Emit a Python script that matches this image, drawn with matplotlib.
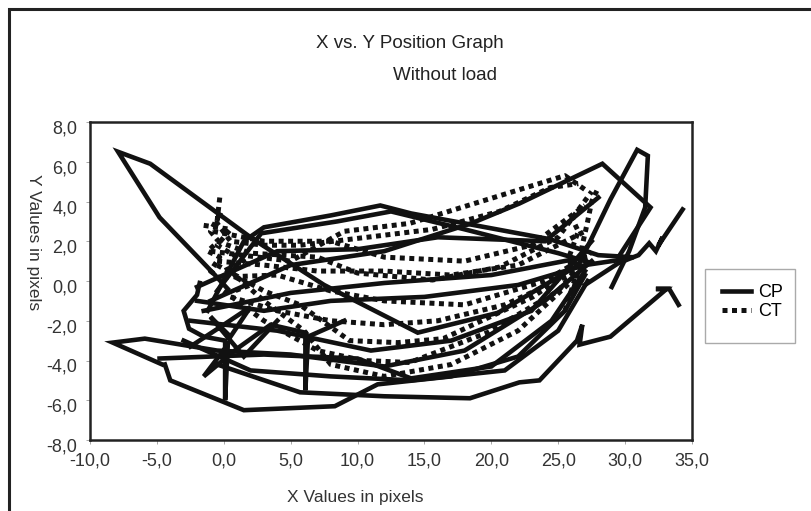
import matplotlib
matplotlib.use("Agg")
import matplotlib.pyplot as plt
from matplotlib.patches import Rectangle
from matplotlib.ticker import FuncFormatter
from matplotlib.transforms import ScaledTranslation

# axis ticks
x_ticks = [-10, -5, 0, 5, 10, 15, 20, 25, 30, 35]
y_ticks = [-8, -6, -4, -2, 0, 2, 4, 6, 8]

# CP trajectories (x, y) in pixels
cp_spike = [(0.3, -0.4), (-0.8, 0.4), (-4.8, 3.2), (-7.9, 6.5), (-5.5, 5.9),
            (2.2, 2.1), (7.5, -0.2), (14.5, -2.6), (20.5, -1.6), (26.5, 0.8)]
cp_top = [(-1.2, -1.5), (1.5, 2.0), (3.0, 2.7), (8.0, 3.3), (11.7, 3.8),
          (14.0, 3.4), (24.4, 2.1), (28.0, 1.3), (30.5, 1.2)]
cp_top2 = [(-0.5, -0.5), (2.8, 2.4), (8.5, 3.0), (12.5, 3.5), (18.0, 2.6),
           (25.0, 1.4), (27.5, 0.9)]
cp_upper = [(-1.0, -1.0), (5.0, 0.8), (12.0, 1.5), (18.5, 2.9), (22.1, 3.9),
            (28.3, 5.9), (31.9, 3.7), (29.5, 1.2)]
cp_tall = [(26.6, 0.9), (28.9, 4.1), (30.9, 6.6), (31.7, 6.3), (31.5, 3.7),
           (30.3, 1.5), (29.0, -0.3)]
cp_zigzag = [(27.0, -0.2), (29.5, 0.9), (31.0, 1.3), (31.8, 1.9), (32.3, 1.5),
             (32.8, 2.2), (32.5, 1.8), (34.3, 3.6)]
cp_arrow = [(-0.5, -4.2), (5.7, -5.6), (12.0, -5.8), (18.4, -5.9), (22.1, -5.1),
            (23.6, -5.0), (26.4, -3.0), (26.8, -2.2), (26.6, -3.2), (28.9, -2.8),
            (33.1, -0.4), (32.3, -0.4), (33.3, -0.4), (34.0, -1.2)]
cp_low = [(-4.4, -4.2), (-4.0, -5.0), (1.5, -6.5), (8.3, -6.3), (11.5, -5.2),
          (17.0, -4.8), (22.0, -3.8), (25.5, -1.5), (27.0, 0.3)]
cp_tip = [(-4.6, -4.2), (-8.3, -3.1), (-5.9, -2.9), (-0.5, -3.5), (5.0, -3.7),
          (12.0, -4.3), (18.0, -3.5), (24.0, -1.0), (27.5, 1.0)]
cp_flat = [(-4.8, -3.9), (3.0, -3.7), (10.0, -3.9), (14.0, -4.9), (20.0, -4.3),
           (24.5, -2.0), (27.0, 0.5)]
cp_mid1 = [(-2.0, -0.3), (4.0, 1.5), (10.0, 1.6), (16.0, 2.2), (24.0, 2.0),
           (28.0, 4.2)]
cp_mid2 = [(-1.5, -1.5), (5.0, -0.6), (12.0, -0.1), (20.0, 0.3), (27.0, 1.2)]
cp_mid3 = [(-2.5, -2.0), (4.0, -2.5), (11.0, -3.5), (17.0, -3.0), (23.0, -1.5),
           (27.5, 2.0)]
cp_mid4 = [(-2.0, -1.0), (3.0, -1.5), (8.0, -1.0), (15.0, -0.8), (22.0, -0.2),
           (27.0, 0.8), (30.0, 1.1)]
cp_lowmid = [(-3.0, -3.0), (2.0, -4.5), (8.0, -4.8), (14.0, -5.0), (21.0, -4.5),
             (25.0, -2.5), (27.2, 0.0)]
cp_knot = [(-1.8, -0.1), (-2.0, -0.7), (-3.0, -1.5), (-2.6, -2.4), (-1.5, -2.8),
           (0.1, -3.0), (0.1, -6.0), (0.3, -3.2), (-1.5, -4.8), (1.0, -3.4),
           (3.5, -2.2), (6.1, -2.6), (6.1, -5.5), (6.3, -2.8), (9.0, -2.0)]
cp_star = [(-2.5, -3.3), (0.0, -2.2), (2.0, -1.3), (0.5, -2.8), (-1.0, -1.8),
           (1.5, -3.8), (4.0, -2.0)]

# CT trajectories (x, y) in pixels
ct_1 = [(-0.6, 3.0), (0.5, 2.0), (3.0, 1.8), (5.7, 1.8), (10.7, 2.2),
        (15.6, 2.6), (20.6, 3.5), (24.4, 4.7), (26.5, 4.9)]
ct_2 = [(-0.5, 2.0), (2.0, 1.4), (7.0, 1.2), (10.0, 0.4), (15.6, 0.05),
        (20.6, 0.7), (25.0, 2.2), (27.5, 4.5)]
ct_3 = [(-1.0, 1.5), (5.0, 1.0), (9.0, 2.5), (13.9, 2.9), (19.7, 4.1),
        (25.5, 5.3), (27.0, 4.6)]
ct_4 = [(0.0, 0.2), (4.0, 0.3), (8.0, -0.5), (12.0, -1.0), (18.0, -1.2),
        (24.0, 0.0), (27.0, 1.2)]
ct_5 = [(-0.5, 0.8), (3.0, -0.5), (5.7, -1.2), (9.4, -3.0), (13.0, -3.1),
        (16.4, -2.9), (23.1, -0.8), (27.0, 1.0)]
ct_6 = [(0.0, -0.5), (3.0, -2.0), (7.0, -3.5), (10.4, -4.0), (13.9, -4.1),
        (19.7, -2.6), (25.0, -0.5), (27.5, 1.5)]
ct_7 = [(0.5, 0.5), (3.0, -1.0), (6.0, -2.5), (8.0, -4.2), (12.0, -4.8),
        (17.0, -4.2), (22.0, -2.5), (26.0, 0.0)]
ct_8 = [(-0.8, 2.5), (3.0, 2.0), (8.0, 2.0), (12.0, 1.2), (18.0, 1.0),
        (23.0, 1.8), (27.0, 3.8)]
ct_9 = [(0.5, -0.8), (4.0, -1.5), (8.0, -2.0), (12.0, -2.2), (16.0, -2.0),
        (21.0, -1.2), (26.5, 0.5)]
ct_10 = [(-0.5, 1.0), (3.0, 0.8), (7.0, 0.5), (12.0, 0.5), (17.0, 0.3),
         (22.0, 0.8), (27.0, 2.5)]
ct_left = [(-0.3, 4.2), (-0.5, 3.0), (-0.2, 3.5), (-1.0, 2.5), (-0.4, 2.0),
           (-1.2, 1.5), (-0.3, 1.2), (-1.0, 0.5), (0.0, 0.0)]
ct_left2 = [(-1.5, 2.8), (0.5, 2.6), (-0.5, 1.8), (1.5, 1.0), (0.0, 0.5),
            (2.0, -0.2), (0.8, -0.5)]
ct_right = [(26.0, -0.8), (26.5, 0.5), (26.8, 1.8), (27.2, 3.0), (27.5, 4.0),
            (28.0, 4.7)]
ct_right2 = [(25.5, -1.5), (26.2, 0.0), (25.8, 1.2), (26.5, 2.5), (26.0, 3.2)]

cp_paths = [cp_spike, cp_top, cp_top2, cp_upper, cp_tall, cp_zigzag, cp_arrow,
            cp_low, cp_tip, cp_flat, cp_mid1, cp_mid2, cp_mid3, cp_mid4,
            cp_lowmid, cp_knot, cp_star]
ct_paths = [ct_1, ct_2, ct_3, ct_4, ct_5, ct_6, ct_7, ct_8, ct_9, ct_10,
            ct_left, ct_left2, ct_right, ct_right2]

plt.rcParams["font.family"] = ["Liberation Sans", "DejaVu Sans"]

fig = plt.figure(figsize=(8.12, 5.11), dpi=100)
ax = fig.add_axes([90 / 812, 1 - 440 / 511, 602 / 812, 318 / 511])

for i, path in enumerate(cp_paths):
    xs = [p[0] for p in path]
    ys = [p[1] for p in path]
    ax.plot(xs, ys, color="#111111", lw=3.3, solid_joinstyle="miter",
            label="CP" if i == 0 else None)
for i, path in enumerate(ct_paths):
    xs = [p[0] for p in path]
    ys = [p[1] for p in path]
    ax.plot(xs, ys, color="#111111", lw=3.6, linestyle=(0, (1, 0.9)),
            dash_capstyle="butt", label="CT" if i == 0 else None)

ax.set_xlim(-10, 35)
ax.set_ylim(-8, 8)
ax.set_xticks(x_ticks)
ax.set_yticks(y_ticks)
fmt = FuncFormatter(lambda v, _: f"{v:.1f}".replace(".", ","))
ax.xaxis.set_major_formatter(fmt)
ax.yaxis.set_major_formatter(fmt)
ax.tick_params(length=3, width=0.6, color="#999999", labelsize=13,
               labelcolor="#333333", pad=6)
# y labels sit a bit low in the original
shift = ScaledTranslation(0, -5 / 100, fig.dpi_scale_trans)
for lab in ax.get_yticklabels():
    lab.set_transform(lab.get_transform() + shift)
for s in ax.spines.values():
    s.set_linewidth(1.8)
    s.set_color("#222222")

fig.text(410 / 812, 1 - 44 / 511, "X vs. Y Position Graph", ha="center",
         va="center", fontsize=13.5, color="#222222")
fig.text(445 / 812, 1 - 75 / 511, "Without load", ha="center",
         va="center", fontsize=13.5, color="#222222")
fig.text(355 / 812, 1 - 497 / 511, "X Values in pixels", ha="center",
         va="center", fontsize=12.5, color="#333333")
fig.text(33 / 812, 1 - 242 / 511, "Y Values in pixels", ha="center",
         va="center", rotation=-90, fontsize=12.5, color="#333333")

leg = ax.legend(loc="upper left", bbox_to_anchor=(708 / 812, 1 - 270 / 511),
                bbox_transform=fig.transFigure, frameon=False,
                fontsize=13, handlelength=1.6, borderpad=0.3,
                labelspacing=0.1, handletextpad=0.4)
fig.add_artist(Rectangle((705 / 812, 1 - 343 / 511), 90 / 812, 74 / 511,
                         fill=False, lw=1.0, ec="#aaaaaa",
                         transform=fig.transFigure))

fig.add_artist(Rectangle((9 / 812, -0.1), 1.2, 1.1 - 9 / 511, fill=False,
                         lw=2.2, ec="#222222", transform=fig.transFigure))

fig.savefig("out.png", dpi=100)
